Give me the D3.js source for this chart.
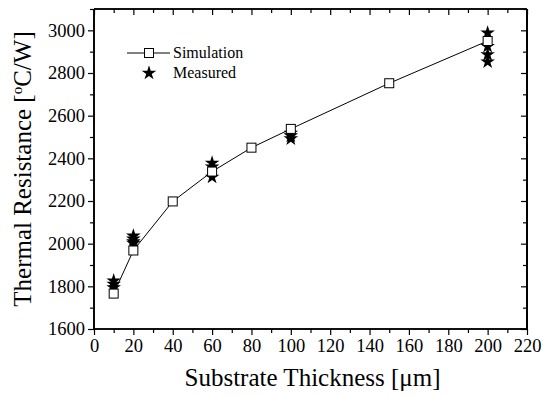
<!doctype html>
<html>
  <head>
    <script src="https://d3js.org/d3.v7.min.js"></script>
    <style>
      body { margin: 0; background: #fff; }
      svg text { font-family: 'Liberation Serif', 'Times New Roman', Times, serif !important; fill: #000; }
    </style>
  </head>
  <body>
    <svg id="chart" width="543" height="398"></svg>
    <script>
      // simulation curve
      var simX = [10, 20, 40, 60, 80, 100, 150, 200]
      var simY = [1766, 1968, 2198, 2338, 2450, 2538, 2752, 2950]
      // measured samples (several per thickness)
      var measX = [10, 10, 10, 20, 20, 20, 20, 60, 60, 60, 100, 100, 100, 200, 200, 200, 200]
      var measY = [1794, 1810, 1826, 2002, 2010, 2022, 2036, 2312, 2360, 2378, 2492, 2506, 2518, 2988, 2925, 2886, 2852]
      var xTicks = [0, 20, 40, 60, 80, 100, 120, 140, 160, 180, 200, 220]
      var yTicks = [1600, 1800, 2000, 2200, 2400, 2600, 2800, 3000]

      var pLeft = 94, pRight = 527, pTop = 9, pBottom = 329
      var serif = "'Liberation Serif', 'Times New Roman', serif"

      var svg = d3.select('#chart')
      var x = d3.scaleLinear().domain([0, 220]).range([pLeft, pRight])
      var y = d3.scaleLinear().domain([1600, 3100]).range([pBottom, pTop])

      var g = svg.append('g')

      // bottom axis, ticks outward
      var xAxis = g.append('g').attr('transform', 'translate(0,' + pBottom + ')')
        .call(d3.axisBottom(x).tickValues(xTicks).tickSize(6).tickPadding(4).tickFormat(d3.format('d')))
      xAxis.append('g').call(d3.axisBottom(x).tickValues(d3.range(10, 220, 20)).tickSize(4).tickFormat(''))
      // left axis, ticks outward
      var yAxis = g.append('g').attr('transform', 'translate(' + pLeft + ',0)')
        .call(d3.axisLeft(y).tickValues(yTicks).tickSize(6).tickPadding(3).tickFormat(d3.format('d')))
      yAxis.append('g').call(d3.axisLeft(y).tickValues(d3.range(1700, 3101, 200)).tickSize(4).tickFormat(''))
      // top axis, ticks inward
      var tAxis = g.append('g').attr('transform', 'translate(0,' + pTop + ')')
        .call(d3.axisTop(x).tickValues(xTicks).tickSize(-6).tickFormat(''))
      tAxis.append('g').call(d3.axisTop(x).tickValues(d3.range(10, 220, 20)).tickSize(-4).tickFormat(''))
      // right axis, ticks inward
      var rAxis = g.append('g').attr('transform', 'translate(' + pRight + ',0)')
        .call(d3.axisRight(y).tickValues(yTicks).tickSize(-6).tickFormat(''))
      rAxis.append('g').call(d3.axisRight(y).tickValues(d3.range(1700, 3101, 200)).tickSize(-4).tickFormat(''))

      g.selectAll('g').attr('font-family', serif)
      g.selectAll('.domain').attr('stroke', '#000').attr('stroke-width', 1.6)
      g.selectAll('.tick line').attr('stroke', '#000').attr('stroke-width', 1.2)
      g.selectAll('.tick text').style('font-family', serif).style('font-size', '18.5px')
      xAxis.selectAll('.domain').attr('d', 'M' + pLeft + ',0H' + pRight)
      yAxis.selectAll('.domain').attr('d', 'M0,' + pTop + 'V' + pBottom)
      tAxis.selectAll('.domain').attr('d', 'M' + pLeft + ',0H' + pRight)
      rAxis.selectAll('.domain').attr('d', 'M0,' + pTop + 'V' + pBottom).attr('stroke-width', 2)

      // simulation line
      var line = d3.line().x((d, i) => x(simX[i])).y((d) => y(d))
      svg.append('path').attr('d', line(simY))
        .attr('fill', 'none').attr('stroke', '#000').attr('stroke-width', 1)

      var star = d3.symbol().type(d3.symbolStar).size(66)

      // measured stars
      svg.selectAll('.meas').data(measY).enter().append('path')
        .attr('class', 'meas')
        .attr('d', star)
        .attr('transform', (d, i) => 'translate(' + x(measX[i]) + ',' + y(d) + ')')
        .attr('fill', '#000')

      // simulation squares
      svg.selectAll('.sim').data(simY).enter().append('rect')
        .attr('class', 'sim')
        .attr('x', (d, i) => x(simX[i]) - 4.5)
        .attr('y', (d) => y(d) - 4.5)
        .attr('width', 9).attr('height', 9)
        .attr('fill', '#fff').attr('stroke', '#000').attr('stroke-width', 1)

      // legend
      var lg = svg.append('g')
      lg.append('line').attr('x1', 127).attr('x2', 170).attr('y1', 53).attr('y2', 53)
        .attr('stroke', '#000').attr('stroke-width', 1)
      lg.append('rect').attr('x', 144.5).attr('y', 48.5).attr('width', 9).attr('height', 9)
        .attr('fill', '#fff').attr('stroke', '#000')
      lg.append('text').attr('x', 173).attr('y', 58).style('font-family', serif).style('font-size', '16px').text('Simulation')
      lg.append('path').attr('d', star).attr('transform', 'translate(149,73)').attr('fill', '#000')
      lg.append('text').attr('x', 173).attr('y', 78).style('font-family', serif).style('font-size', '16px').text('Measured')

      // axis titles
      svg.append('text').attr('x', (pLeft + pRight) / 2 + 2).attr('y', 386)
        .attr('text-anchor', 'middle').style('font-family', serif).style('font-size', '25px')
        .text('Substrate Thickness [\u03bcm]')
      var yt = svg.append('text')
        .attr('transform', 'translate(31,' + (pTop + pBottom) / 2 + ') rotate(-90)')
        .attr('text-anchor', 'middle').style('font-family', serif).style('font-size', '25px')
      yt.append('tspan').text('Thermal Resistance [')
      yt.append('tspan').attr('dy', -9).style('font-size', '15px').text('o')
      yt.append('tspan').attr('dy', 9).text('C/W]')
    </script>
  </body>
</html>
